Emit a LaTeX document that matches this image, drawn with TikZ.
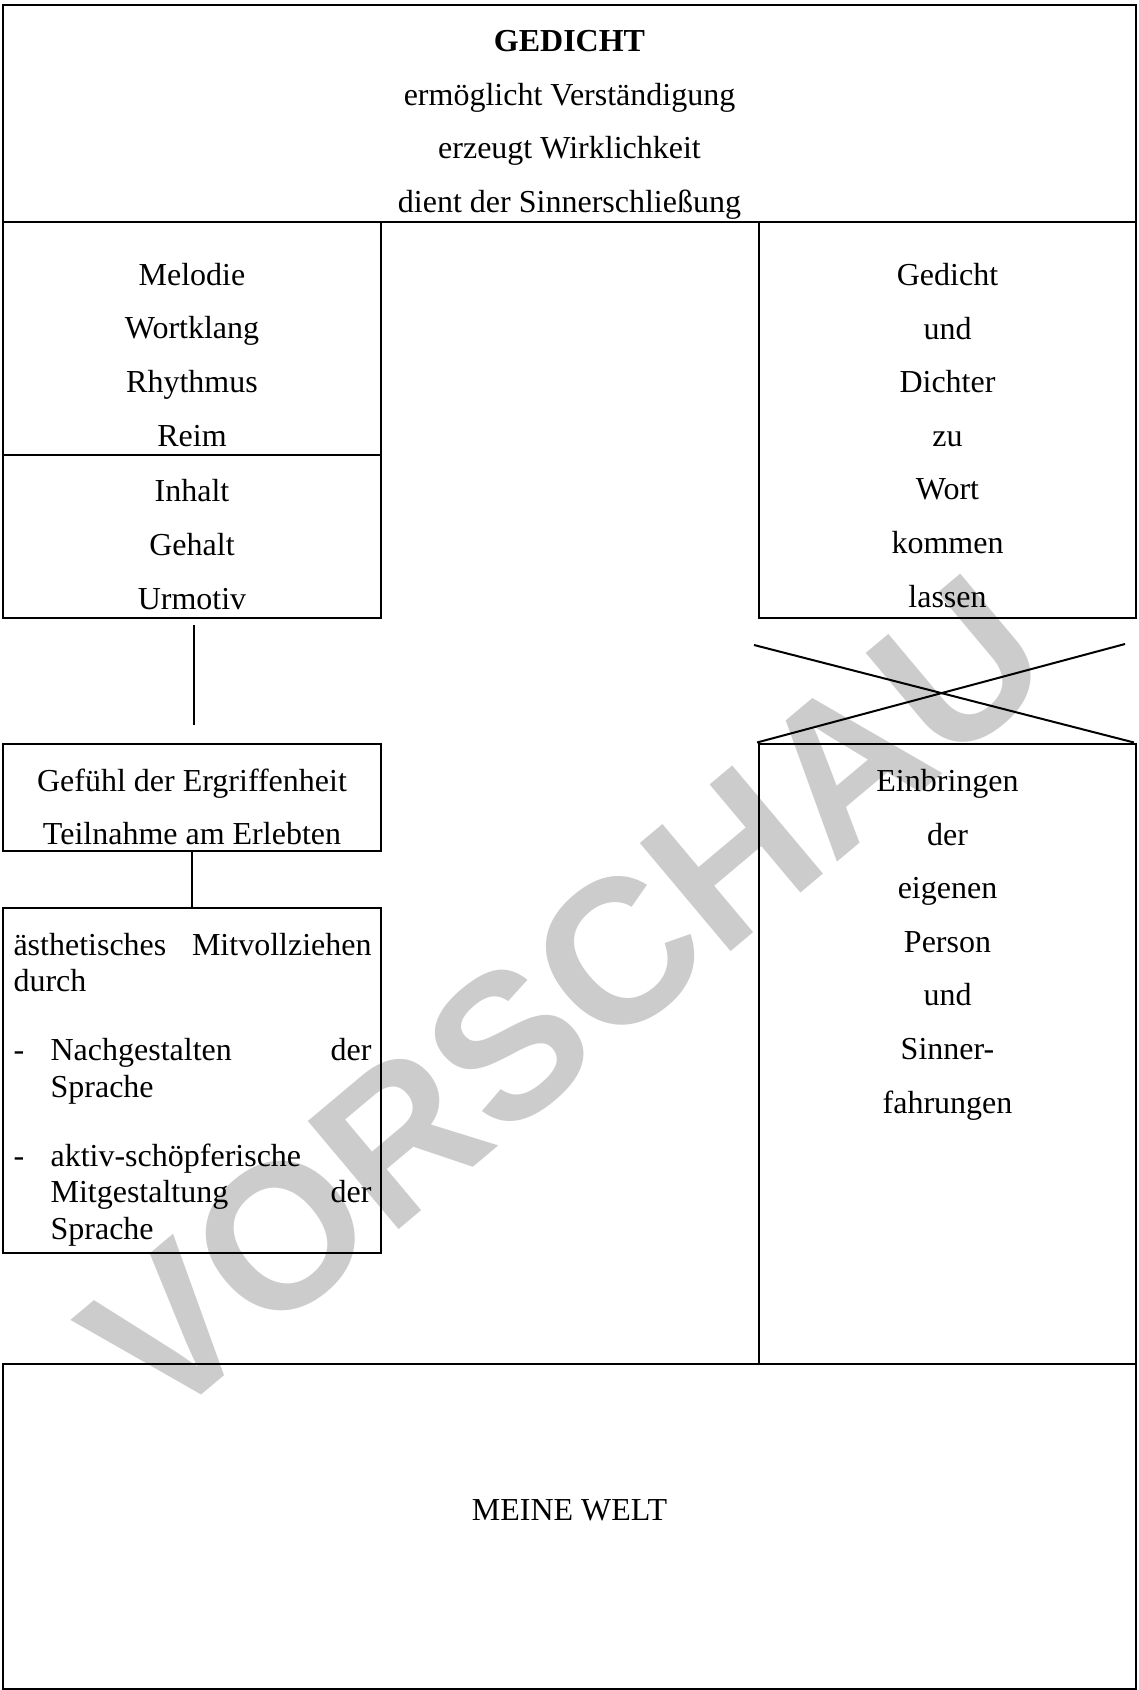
\documentclass[tikz,border=0pt]{standalone}
\usepackage{fontspec}
\setmainfont{Liberation Serif}
\newfontfamily\wmfont{Liberation Sans}
\definecolor{wmgray}{RGB}{204,204,204}
\begin{document}
\begin{tikzpicture}[x=0.375pt,y=-0.375pt,
  box/.style={draw, line width=0.75pt, inner sep=0pt, outer sep=0pt, anchor=north west},
  txt/.style={font=\fontsize{12}{20.1}\selectfont, align=center, anchor=base, inner sep=0pt},
  ln/.style={line width=0.75pt}]
\useasboundingbox (0,0) rectangle (1138,1690);
% watermark
\node[rotate=40, anchor=base, text=wmgray, inner sep=0pt, font=\wmfont\bfseries\fontsize{77}{77}\selectfont] (wm) at (611,1052) {VORSCHAU};
% boxes
\node[box, minimum width=424.875pt, minimum height=81.375pt] (top) at (3,5) {};
\node[box, minimum width=141.75pt, minimum height=87.375pt] (mel) at (3,222) {};
\node[box, minimum width=141.75pt, minimum height=61.125pt] (inh) at (3,455) {};
\node[box, minimum width=141.375pt, minimum height=148.5pt] (ged) at (759,222) {};
\node[box, minimum width=141.75pt, minimum height=40.125pt] (gef) at (3,744) {};
\node[box, minimum width=141.75pt, minimum height=129.375pt] (aes) at (3,908) {};
\node[box, minimum width=141.375pt, minimum height=232.5pt] (ein) at (759,744) {};
\node[box, minimum width=424.875pt, minimum height=121.875pt] (welt) at (3,1364) {};
% texts (anchor base = baseline of the last line)
\node[txt] (ttop) at (569.5,212.5) {\textbf{GEDICHT}\\ermöglicht Verständigung\\erzeugt Wirklichkeit\\dient der Sinnerschließung};
\node[txt] (tmel) at (192,446) {Melodie\\Wortklang\\Rhythmus\\Reim};
\node[txt] (tinh) at (192,609) {Inhalt\\Gehalt\\Urmotiv};
\node[txt] (tged) at (947.5,607) {Gedicht\\und\\Dichter\\zu\\Wort\\kommen\\lassen};
\node[txt] (tgef) at (192,844.6) {Gefühl der Ergriffenheit\\Teilnahme am Erlebten};
\node[txt] (tein) at (947.5,1113) {Einbringen\\der\\eigenen\\Person\\und\\Sinner-\\fahrungen};
\node[txt] (twelt) at (569.5,1520) {MEINE WELT};
\node[font=\fontsize{12}{13.7}\selectfont, text width=134.25pt, align=justify, anchor=base west, inner sep=0pt] (taes) at (13,955) {%
ästhetisches\hfill Mitvollziehen\\
durch\\[12.2pt]
\makebox[13.9pt][l]{-}Nachgestalten\hfill der\\
\hspace*{13.9pt}Sprache\\[12.2pt]
\makebox[13.9pt][l]{-}aktiv-schöpferische\\
\hspace*{13.9pt}Mitgestaltung\hfill der\\
\hspace*{13.9pt}Sprache};
% connectors
\coordinate (c1a) at (194,625);
\coordinate (c1b) at (194,725);
\draw[ln] (c1a) -- (c1b);
\draw[ln] (gef.south) -- (aes.north);
% cross
\coordinate (xa1) at (754,645);
\coordinate (xa2) at (1134,742.5);
\coordinate (xb1) at (757,742.5);
\coordinate (xb2) at (1125,644);
\draw[ln] (xa1) -- (xa2);
\draw[ln] (xb1) -- (xb2);
\end{tikzpicture}
\end{document}
